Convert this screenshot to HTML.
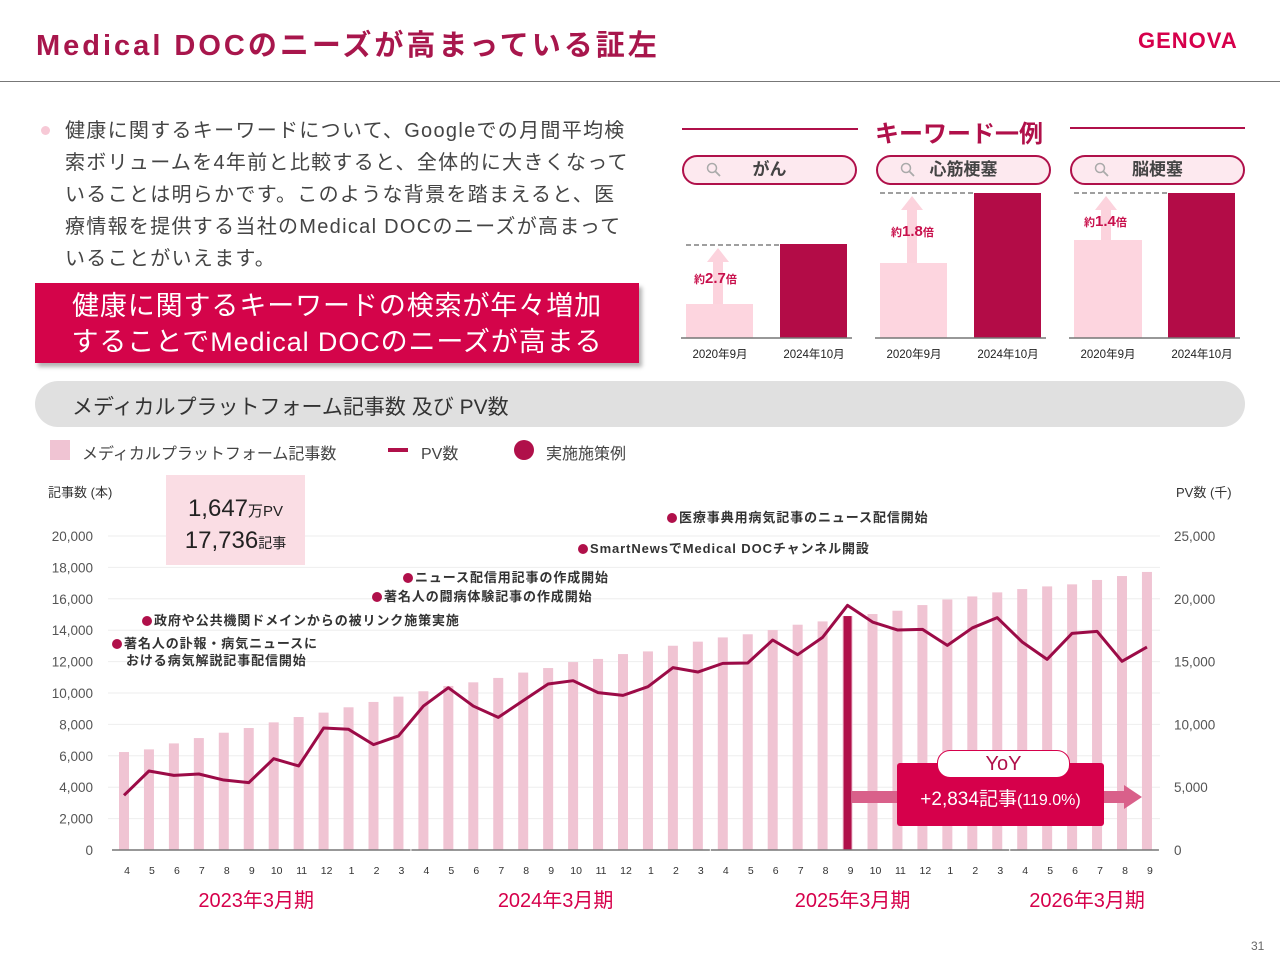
<!DOCTYPE html>
<html><head><meta charset="utf-8">
<style>
body{margin:0;width:1280px;height:960px;position:relative;background:#fff;font-family:"Liberation Sans","Noto Sans CJK JP",sans-serif;overflow:hidden;color:#333}
.abs{position:absolute;white-space:nowrap}
.ann{position:absolute;font-size:13px;font-weight:bold;color:#333;white-space:nowrap;line-height:17px;letter-spacing:0.9px}
.ann i{display:inline-block;width:10px;height:10px;border-radius:50%;background:#b0104a;margin-right:2px;vertical-align:-1px}
.pill{position:absolute;top:155px;width:171px;height:26px;border:2px solid #b0104a;border-radius:15px;background:#fde9ef;font-weight:bold;font-size:17px;color:#444;text-align:center;line-height:26px}
.pill svg{position:absolute;left:22px;top:5px}
.xl{position:absolute;top:346px;font-size:11.5px;color:#222;width:90px;text-align:center}
.mul{position:absolute;font-size:11px;font-weight:bold;color:#c8104c}
.mul b{font-size:15px}
</style></head><body>
<div class="abs" style="left:36px;top:22px;font-size:29px;font-weight:bold;color:#a8164c;letter-spacing:3px">Medical DOCのニーズが高まっている証左</div>
<div class="abs" style="left:1138px;top:28px;font-size:22px;font-weight:bold;color:#d6004b;letter-spacing:1px">GENOVA</div>
<div class="abs" style="left:0;top:81px;width:1280px;height:1px;background:#777"></div>

<div class="abs" style="left:41px;top:126px;width:9px;height:9px;border-radius:50%;background:#f7c9d6"></div>
<div class="abs" style="left:65px;top:115px;font-size:20px;line-height:32px;color:#444;white-space:nowrap;letter-spacing:1.3px">健康に関するキーワードについて、Googleでの月間平均検<br>索ボリュームを4年前と比較すると、全体的に大きくなって<br>いることは明らかです。このような背景を踏まえると、医<br>療情報を提供する当社のMedical DOCのニーズが高まって<br>いることがいえます。</div>

<div class="abs" style="left:35px;top:283px;width:604px;height:80px;background:#d4044a;box-shadow:3px 4px 4px rgba(0,0,0,0.3);color:#fff;font-size:27px;line-height:36px;text-align:center;padding-top:5px;box-sizing:border-box;letter-spacing:0.9px">健康に関するキーワードの検索が年々増加<br>することでMedical DOCのニーズが高まる</div>

<!-- keyword panel -->
<div class="abs" style="left:682px;top:128px;width:176px;height:2px;background:#b0104a"></div>
<div class="abs" style="left:1070px;top:127px;width:175px;height:2px;background:#b0104a"></div>
<div class="abs" style="left:875px;top:114px;font-size:24px;font-weight:bold;color:#b0104a">キーワード一例</div>
<div class="pill" style="left:682px"><svg width="16" height="16"><circle cx="6" cy="6" r="4.5" fill="none" stroke="#aaa" stroke-width="1.5"/><line x1="9.5" y1="9.5" x2="14" y2="14" stroke="#aaa" stroke-width="1.8"/></svg>がん</div>
<div class="pill" style="left:876px"><svg width="16" height="16"><circle cx="6" cy="6" r="4.5" fill="none" stroke="#aaa" stroke-width="1.5"/><line x1="9.5" y1="9.5" x2="14" y2="14" stroke="#aaa" stroke-width="1.8"/></svg>心筋梗塞</div>
<div class="pill" style="left:1070px"><svg width="16" height="16"><circle cx="6" cy="6" r="4.5" fill="none" stroke="#aaa" stroke-width="1.5"/><line x1="9.5" y1="9.5" x2="14" y2="14" stroke="#aaa" stroke-width="1.8"/></svg>脳梗塞</div>
<svg class="abs" style="left:0;top:0" width="1280" height="370">
 <g fill="#fdd5df"><rect x="686" y="304" width="67" height="34"/><rect x="880" y="263" width="67" height="75"/><rect x="1074" y="240" width="68" height="98"/></g>
 <g fill="#b30c47"><rect x="780" y="244" width="67" height="94"/><rect x="974" y="193" width="67" height="145"/><rect x="1168" y="193" width="67" height="145"/></g>
 <g stroke="#666" stroke-dasharray="5,3" stroke-width="1.2"><line x1="686" y1="245" x2="780" y2="245"/><line x1="880" y1="193" x2="974" y2="193"/><line x1="1074" y1="193" x2="1168" y2="193"/></g>
 <g fill="#fcd3dd"><rect x="713" y="260" width="10" height="44"/><polygon points="707,262 718,248 729,262"/><rect x="907" y="208" width="10" height="55"/><polygon points="901,210 912,196 923,210"/><rect x="1101" y="208" width="10" height="32"/><polygon points="1095,210 1106,196 1117,210"/></g>
 <g stroke="#777" stroke-width="1.5"><line x1="681" y1="338" x2="852" y2="338"/><line x1="875" y1="338" x2="1046" y2="338"/><line x1="1069" y1="338" x2="1240" y2="338"/></g>
</svg>
<div class="mul" style="left:694px;top:270px">約<b>2.7</b>倍</div>
<div class="mul" style="left:891px;top:223px">約<b>1.8</b>倍</div>
<div class="mul" style="left:1084px;top:213px">約<b>1.4</b>倍</div>
<div class="xl" style="left:675px">2020年9月</div>
<div class="xl" style="left:769px">2024年10月</div>
<div class="xl" style="left:869px">2020年9月</div>
<div class="xl" style="left:963px">2024年10月</div>
<div class="xl" style="left:1063px">2020年9月</div>
<div class="xl" style="left:1157px">2024年10月</div>

<!-- chart header -->
<div class="abs" style="left:35px;top:381px;width:1210px;height:46px;border-radius:23px;background:#e0e0e0"></div>
<div class="abs" style="left:72px;top:391px;font-size:21px;color:#333">メディカルプラットフォーム記事数 及び PV数</div>
<div class="abs" style="left:50px;top:440px;width:20px;height:20px;background:#f0c4d3"></div>
<div class="abs" style="left:82px;top:440px;font-size:16px;color:#444">メディカルプラットフォーム記事数</div>
<div class="abs" style="left:388px;top:448px;width:20px;height:4px;background:#b0104a"></div>
<div class="abs" style="left:421px;top:440px;font-size:16px;color:#444">PV数</div>
<div class="abs" style="left:514px;top:440px;width:20px;height:20px;border-radius:50%;background:#b0104a"></div>
<div class="abs" style="left:546px;top:440px;font-size:16px;color:#444">実施施策例</div>

<svg id="chart" class="abs" style="left:0;top:470px" width="1280" height="450"></svg>

<div class="abs" style="left:166px;top:475px;width:139px;height:90px;background:#fadde4;text-align:center;color:#222">
 <div style="font-size:24px;margin-top:20px;line-height:28px">1,647<span style="font-size:15px">万PV</span></div>
 <div style="font-size:24px;line-height:30px">17,736<span style="font-size:14px">記事</span></div>
</div>

<div class="ann" style="left:112px;top:635px"><i></i>著名人の訃報・病気ニュースに<br><span style="padding-left:14px">おける病気解説記事配信開始</span></div>
<div class="ann" style="left:142px;top:612px"><i></i>政府や公共機関ドメインからの被リンク施策実施</div>
<div class="ann" style="left:372px;top:588px"><i></i>著名人の闘病体験記事の作成開始</div>
<div class="ann" style="left:403px;top:569px"><i></i>ニュース配信用記事の作成開始</div>
<div class="ann" style="left:578px;top:540px"><i></i>SmartNewsでMedical DOCチャンネル開設</div>
<div class="ann" style="left:667px;top:509px"><i></i>医療事典用病気記事のニュース配信開始</div>

<div class="abs" style="left:852px;top:791px;width:272px;height:12px;background:#d9608a"></div>
<div class="abs" style="left:1124px;top:785px;width:0;height:0;border-top:12px solid transparent;border-bottom:12px solid transparent;border-left:18px solid #d9608a"></div>
<div class="abs" style="left:897px;top:763px;width:207px;height:63px;background:#d6004b;border-radius:3px;color:#fff;font-size:19px;text-align:center;line-height:74px">+2,834記事<span style="font-size:16px">(119.0%)</span></div>
<div class="abs" style="left:937px;top:750px;width:131px;height:26px;background:#fff;border:1px solid #d6004b;border-radius:13px;color:#b0104a;font-size:20px;text-align:center;line-height:27px">YoY</div>

<div class="abs" style="left:1251px;top:939px;font-size:12px;color:#666">31</div>

<script>
const months=['4','5','6','7','8','9','10','11','12','1','2','3','4','5','6','7','8','9','10','11','12','1','2','3','4','5','6','7','8','9','10','11','12','1','2','3','4','5','6','7','8','9'];
const articles=[6240,6410,6790,7130,7470,7770,8130,8470,8750,9090,9430,9770,10110,10450,10680,10960,11300,11590,11970,12170,12480,12650,13010,13270,13540,13740,14010,14350,14560,14900,15030,15240,15600,15960,16150,16410,16620,16790,16920,17200,17450,17710];
const pv=[4350,6290,5940,6050,5570,5360,7270,6690,9710,9610,8390,9080,11460,12920,11460,10560,11890,13220,13480,12530,12310,13000,14520,14170,14860,14890,16720,15550,16930,19480,18150,17520,17570,16290,17680,18500,16560,15180,17250,17410,15020,16160];
const leftTicks=[0,2000,4000,6000,8000,10000,12000,14000,16000,18000,20000];
const rightTicks=[0,5000,10000,15000,20000,25000];
const periods=['2023年3月期','2024年3月期','2025年3月期','2026年3月期'];
const periodCenters=[5.3,17.3,29.2,38.6];
const highlightIndex=29;

const svg=document.getElementById('chart');const NS='http://www.w3.org/2000/svg';
const OY=470;
const yL=v=>850-OY-v/20000*314;
const yR=v=>850-OY-v/25000*314;
const x=i=>124+i*24.95;
function mk(t,a,txt){const e=document.createElementNS(NS,t);for(const k in a)e.setAttribute(k,a[k]);if(txt!==undefined)e.textContent=txt;svg.appendChild(e);return e;}
mk('text',{x:48,y:27,'font-size':13,fill:'#333'},'記事数 (本)');
mk('text',{x:1176,y:27,'font-size':13,fill:'#333'},'PV数 (千)');
leftTicks.forEach(v=>{
 if(v>0){const g=mk('line',{x1:108,x2:1160,y1:yL(v),y2:yL(v),stroke:'#eee','stroke-width':1});}
 const t=mk('text',{x:93,y:yL(v)+5,'font-size':13.5,fill:'#555','text-anchor':'end'},v.toLocaleString('en-US'));
 
});
rightTicks.forEach(v=>{
 const t=mk('text',{x:1174,y:yR(v)+5,'font-size':13.5,fill:'#555'},v.toLocaleString('en-US'));
 
});
articles.forEach((v,i)=>{
 const r=mk('rect',{x:x(i)-5,y:yL(v),width:10,height:850-OY-yL(v),fill:'#f0c4d3'});
 
});
const hb=mk('rect',{x:x(highlightIndex)-4,y:yL(articles[highlightIndex]),width:8,height:850-OY-yL(articles[highlightIndex]),fill:'#b0104a'});

[[0,11],[12,23],[24,35],[36,41]].forEach(([a,b])=>{
 const l=mk('line',{x1:x(a)-12,x2:x(b)+12,y1:850-OY,y2:850-OY,stroke:'#777','stroke-width':1.5});
 
});
const pl=mk('polyline',{points:pv.map((v,i)=>x(i)+','+yR(v)).join(' '),fill:'none',stroke:'#9c0b47','stroke-width':3,'stroke-linejoin':'round'});

months.forEach((m,i)=>{
 const t=mk('text',{x:x(i)+3,y:404,'font-size':10.5,fill:'#333','text-anchor':'middle'},m);
 
});
periods.forEach((p,i)=>{
 const t=mk('text',{x:x(periodCenters[i]),y:437,'font-size':20,fill:'#d6004b','text-anchor':'middle'},p);
 
});
</script>
</body></html>
